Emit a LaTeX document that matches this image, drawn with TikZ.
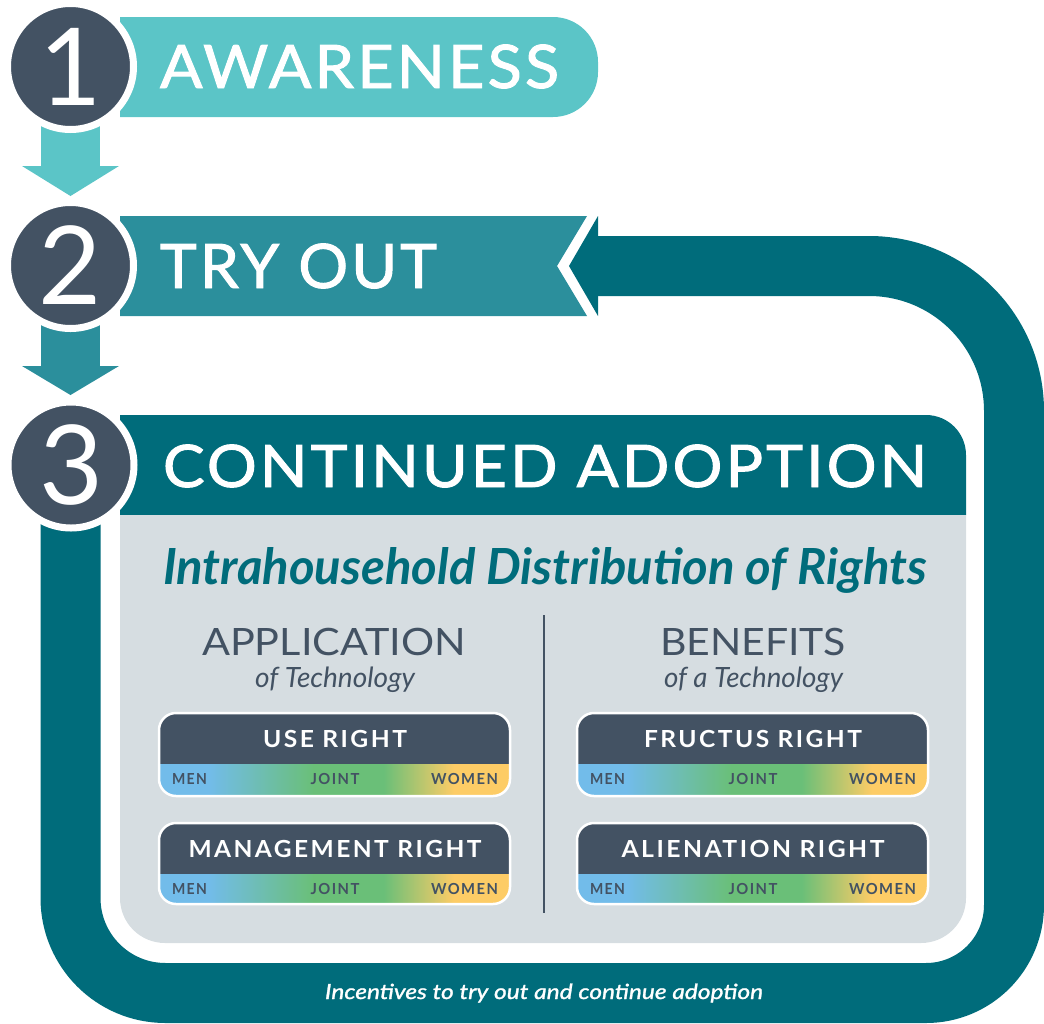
\documentclass[tikz,border=0pt]{standalone}
\usepackage{fontspec}
\usepackage{graphicx}
\setmainfont{Lato}
\newfontfamily\titlefont[LetterSpace=5,FakeBold=1.6]{Lato}
\newfontfamily\boxfont[LetterSpace=10]{Lato}
\newfontfamily\medfont[FakeBold=1.2]{Lato}
\newfontfamily\numfont{Lato}
\definecolor{c1}{HTML}{5BC5C7}
\definecolor{c2}{HTML}{2B8F9C}
\definecolor{c3}{HTML}{006C7B}
\definecolor{slate}{HTML}{435263}
\definecolor{panel}{HTML}{D6DDE1}
\definecolor{gblue}{HTML}{72BCEA}
\definecolor{ggreen}{HTML}{6ABF78}
\definecolor{gyellow}{HTML}{FDCC66}
\pgfdeclarehorizontalshading{rightsgrad}{100bp}{color(0bp)=(gblue); color(25bp)=(gblue); color(32bp)=(gblue); color(47bp)=(ggreen); color(57bp)=(ggreen); color(67bp)=(gyellow); color(75bp)=(gyellow); color(100bp)=(gyellow)}
\newsavebox\fitbox
\newlength\fitw
\newlength\fith
% #1 target width, #2 target cap height, #3 font, #4 text
\newcommand\fittext[4]{%
  \begingroup
  \sbox\fitbox{#3#4}%
  \settoheight\fith{#3H}%
  \setlength\fitw{\wd\fitbox}%
  \pgfmathsetmacro\fiths{#1/\fitw}%
  \pgfmathsetmacro\fitvs{#2/\fith}%
  \scalebox{\fiths}[\fitvs]{\usebox\fitbox}%
  \endgroup}
\newcommand\capfit[3]{%
  \begingroup
  \settoheight\fith{#2H}%
  \pgfmathsetmacro\fitvs{#1/\fith}%
  \scalebox{\fitvs}{#2#3}%
  \endgroup}
\tikzset{
  txt/.style={inner sep=0pt, outer sep=0pt},
  stepcircle/.style={circle, fill=slate, draw=white, line width=7pt, minimum size=126pt, inner sep=0pt, text=white},
}
% #1 name #2 x1 #3 x2 #4 ytop #5 ydiv #6 ybot #7 title #8 title width
\newcommand\rbox[8]{%
  \fill[slate,rounded corners=17pt] (#2,-#4) rectangle (#3,-#6);
  \begin{scope}
    \clip[rounded corners=17pt] (#2,-#4) rectangle (#3,-#6);
    \shade[shading=rightsgrad] (#2,-#5) rectangle (#3,-#6);
  \end{scope}
  \draw[white,line width=2.5pt,rounded corners=17pt] (#2,-#4) rectangle (#3,-#6);
  \node[txt,anchor=base] (#1-title) at (#2+176,-#5+17) {\fittext{#8}{17}{\color{white}\boxfont\bfseries}{#7}};
  \node[txt,anchor=base west] (#1-men) at (#2+13,-#5-20.5) {\fittext{35}{11}{\color{slate}\boxfont\bfseries}{MEN}};
  \node[txt,anchor=base] (#1-joint) at (#2+176,-#5-20.5) {\fittext{49}{11}{\color{slate}\boxfont\bfseries}{JOINT}};
  \node[txt,anchor=base east] (#1-women) at (#2+339,-#5-20.5) {\fittext{67}{11}{\color{slate}\boxfont\bfseries}{WOMEN}};
}
\begin{document}
\begin{tikzpicture}[x=1pt,y=1pt]
\useasboundingbox (0,0) rectangle (1044,-1023);
% feedback loop
\draw[c3,line width=60pt] (70.5,-470) -- (70.5,-898) arc[start angle=180,end angle=270,radius=95]
  -- (926,-993) arc[start angle=270,end angle=360,radius=88]
  -- (1014,-411) arc[start angle=0,end angle=90,radius=145] -- (597,-266);
\fill[c3] (598,-216) -- (569,-266) -- (598,-316) -- cycle;
% banners
\fill[c1] (120,-17) -- (553,-17) arc[start angle=90,end angle=0,radius=45] -- (598,-72) arc[start angle=0,end angle=-90,radius=45] -- (120,-117) -- cycle;
\fill[c2] (120,-216) -- (587,-216) -- (557,-266) -- (587,-316) -- (120,-316) -- cycle;
\fill[c3] (120,-415) -- (926,-415) arc[start angle=90,end angle=0,radius=40] -- (966,-515) -- (120,-515) -- cycle;
\fill[panel] (120,-515) -- (966,-515) -- (966,-898) arc[start angle=0,end angle=-90,radius=45] -- (165,-943) arc[start angle=270,end angle=180,radius=45] -- cycle;
% down arrows
\fill[c1] (41,-110) rectangle (100,-167);
\fill[c1] (22,-166) -- (119,-166) -- (70.5,-196) -- cycle;
\fill[c2] (41,-310) rectangle (100,-367);
\fill[c2] (22,-366) -- (119,-366) -- (70.5,-395) -- cycle;
% step circles
\node[stepcircle] (circ1) at (70.5,-66.5) {\capfit{77}{\numfont}{1}};
\node[stepcircle] (circ2) at (70.5,-265.5) {\capfit{78}{\numfont}{2}};
\node[stepcircle] (circ3) at (71,-465) {\capfit{79}{\numfont}{3}};
% titles
\node[txt,anchor=base west] (t1) at (160,-88) {\fittext{399}{43}{\color{white}\titlefont}{AWARENESS}};
\node[txt,anchor=base west] (t2) at (160,-288) {\fittext{277}{44}{\color{white}\titlefont}{TRY OUT}};
\node[txt,anchor=base west] (t3) at (163,-487) {\fittext{764}{42}{\color{white}\titlefont}{CONTINUED ADOPTION}};
% panel texts
\node[txt,anchor=base west] (heading) at (163,-584) {\fittext{764}{36}{\color{c3}\bfseries\itshape}{Intrahousehold Distribution of Rights}};
\node[txt,anchor=base west] (app) at (202,-655) {\fittext{264}{27}{\color{slate}}{APPLICATION}};
\node[txt,anchor=base west] (appsub) at (255,-687) {\fittext{160}{20}{\color{slate}\itshape}{of Technology}};
\node[txt,anchor=base west] (ben) at (660,-655) {\fittext{186}{27}{\color{slate}}{BENEFITS}};
\node[txt,anchor=base west] (bensub) at (664,-687) {\fittext{179}{20}{\color{slate}\itshape}{of a Technology}};
\coordinate (divtop) at (543.5,-615);
\coordinate (divbot) at (543.5,-913);
\draw[slate,line width=2pt] (divtop) -- (divbot);
% rights boxes
\rbox{use}{159}{510}{713}{764}{796}{USE RIGHT}{144}
\rbox{mgmt}{159}{510}{823}{874}{904}{MANAGEMENT RIGHT}{293}
\rbox{fruc}{577}{928}{713}{764}{796}{FRUCTUS RIGHT}{218}
\rbox{alien}{577}{928}{823}{874}{904}{ALIENATION RIGHT}{263}
% loop label
\node[txt,anchor=base west] (incent) at (325,-999) {\fittext{438}{15}{\color{white}\medfont\itshape}{Incentives to try out and continue adoption}};
\end{tikzpicture}
\end{document}
